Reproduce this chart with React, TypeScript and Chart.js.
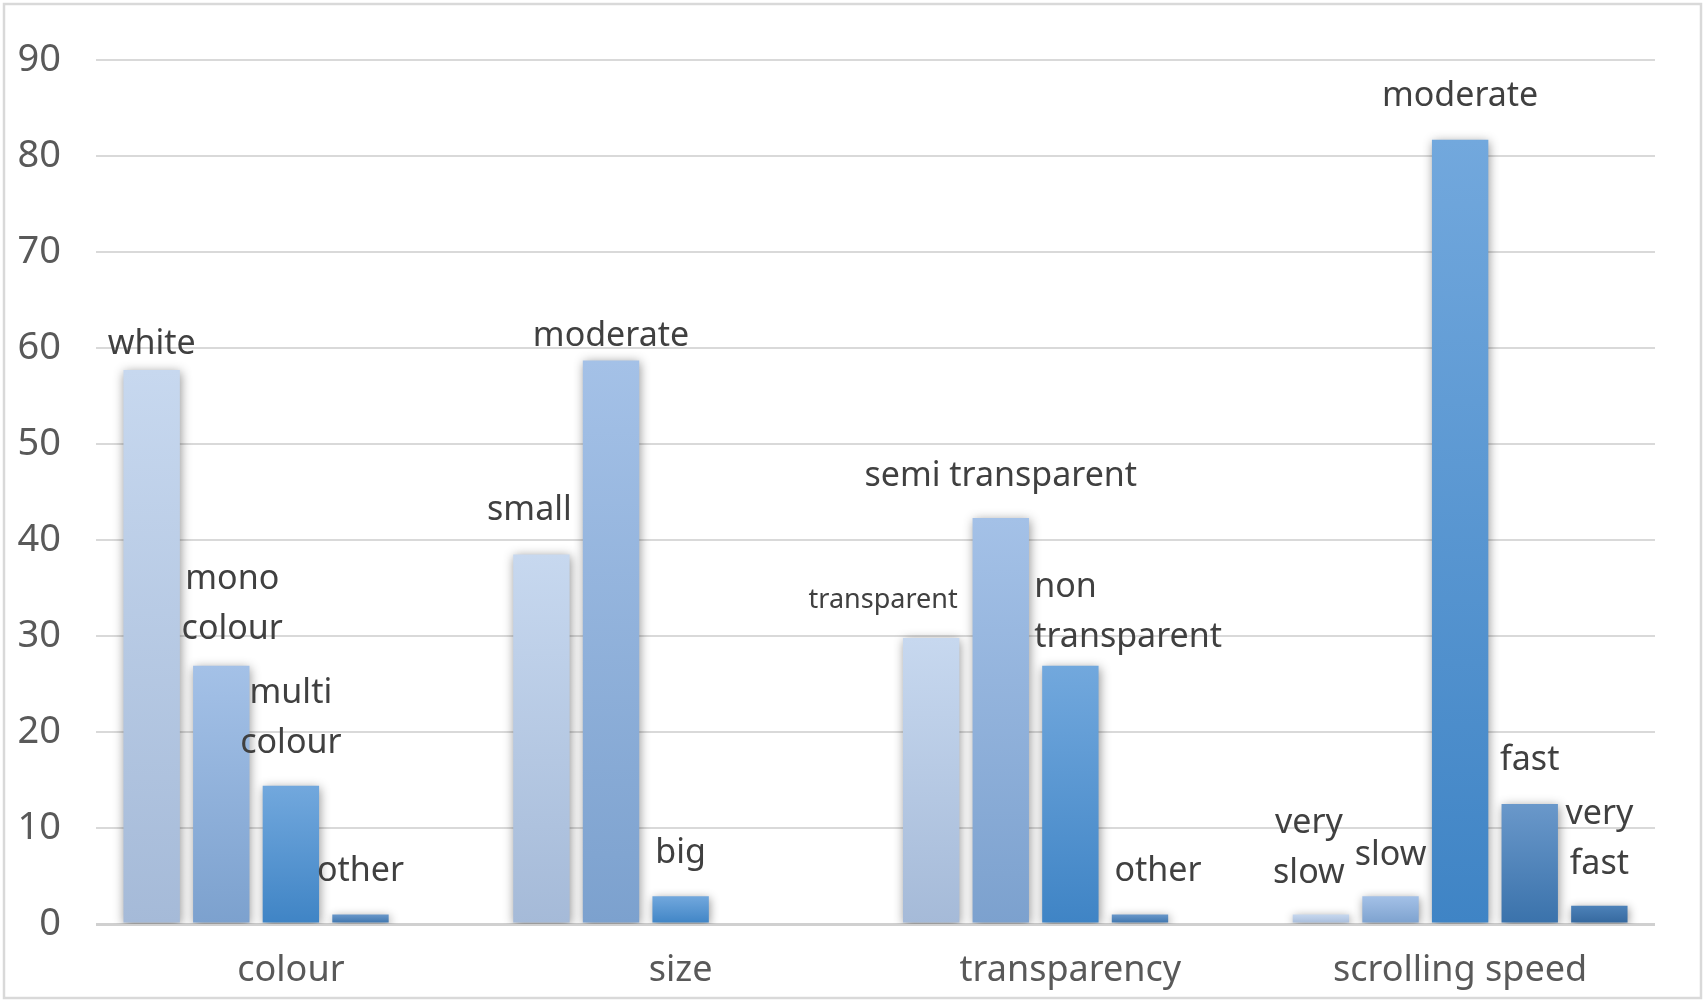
import React, { useEffect, useRef } from "react";
import { Chart, registerables } from "chart.js";

Chart.register(...registerables);

// ---- data ----
const categories = ["colour", "size", "transparency", "scrolling speed"];
const yTicks = [0, 10, 20, 30, 40, 50, 60, 70, 80, 90];

const slot1Values = [57.7, 38.5, 29.8, 1.0];
const slot2Values = [26.9, 58.7, 42.3, 2.9];
const slot3Values = [14.4, 2.9, 26.9, 81.7];
const slot4Values = [1.0, null, 1.0, 12.5];
const slot5Values = [null, null, null, 1.9];

const slot1Labels = ["white", "small", "transparent", "very\nslow"];
const slot2Labels = ["mono\ncolour", "moderate", "semi transparent", "slow"];
const slot3Labels = ["multi\ncolour", "big", "non\ntransparent", "moderate"];
const slot4Labels = ["other", "", "other", "fast"];
const slot5Labels = ["", "", "", "very\nfast"];

// ---- styles (not data) ----
const slotGradients = [
  ["#c7d8ef", "#a5bad8"],
  ["#a4c1e7", "#7ca1ce"],
  ["#72a8dd", "#3f84c5"],
  ["#6a98ca", "#3a72ab"],
  ["#4d82b9", "#34679d"],
];

type Place = { dx: number; gap: number; align?: "left" | "center"; size?: number };
const labelPlacement: Place[][] = [
  [{ dx: 0, gap: 26 }, { dx: -12, gap: 44 }, { dx: -48, gap: 38, size: 27 }, { dx: -12, gap: 41 }],
  [{ dx: 11, gap: 36 }, { dx: 0, gap: 24 }, { dx: 0, gap: 42 }, { dx: 0, gap: 41 }],
  [{ dx: 0, gap: 42 }, { dx: 0, gap: 43 }, { dx: -8, gap: 28, align: "left" }, { dx: 0, gap: 43 }],
  [{ dx: 0, gap: 43 }, { dx: 0, gap: 43 }, { dx: 18, gap: 43 }, { dx: 0, gap: 44 }],
  [{ dx: 0, gap: 41 }, { dx: 0, gap: 41 }, { dx: 0, gap: 41 }, { dx: 0, gap: 41 }],
];

const FONT = "'Noto Sans', 'DejaVu Sans', sans-serif";

export default function App() {
  const ref = useRef<HTMLCanvasElement | null>(null);

  useEffect(() => {
    document.body.style.margin = "0";
    const canvas = ref.current;
    if (!canvas) return;

    const seriesValues = [slot1Values, slot2Values, slot3Values, slot4Values, slot5Values];
    const seriesLabels = [slot1Labels, slot2Labels, slot3Labels, slot4Labels, slot5Labels];

    const gradientFill = (i: number) => (c: any) => {
      const [top, bottom] = slotGradients[i];
      const chart = c.chart;
      const ys = chart.scales && chart.scales.y;
      if (!ys || c.raw == null || c.type !== "data") return top;
      const y0 = ys.getPixelForValue(c.raw);
      const y1 = ys.getPixelForValue(0);
      if (!isFinite(y0) || !isFinite(y1) || y0 === y1) return top;
      const g = chart.ctx.createLinearGradient(0, y0, 0, y1);
      g.addColorStop(0, top);
      g.addColorStop(1, bottom);
      return g;
    };

    const shadowAndLabels = {
      id: "shadowAndLabels",
      beforeDraw(chart: any) {
        const ctx = chart.ctx;
        ctx.save();
        ctx.fillStyle = "#ffffff";
        ctx.fillRect(0, 0, chart.width, chart.height);
        ctx.strokeStyle = "#d9d9d9";
        ctx.lineWidth = 2.5;
        ctx.strokeRect(4, 4, chart.width - 8, chart.height - 9);
        ctx.restore();
      },
      beforeDatasetsDraw(chart: any) {
        const ctx = chart.ctx;
        ctx.save();
        ctx.shadowColor = "rgba(0,0,0,0.42)";
        ctx.shadowBlur = 10;
        ctx.shadowOffsetX = 1;
        ctx.shadowOffsetY = 2;
      },
      afterDatasetsDraw(chart: any) {
        const ctx = chart.ctx;
        ctx.restore();
        ctx.save();
        ctx.fillStyle = "#404040";
        ctx.textBaseline = "middle";
        seriesLabels.forEach((labels, si) => {
          const meta = chart.getDatasetMeta(si);
          labels.forEach((text, ci) => {
            if (!text) return;
            const el = meta.data[ci];
            if (!el || seriesValues[si][ci] == null) return;
            const p = labelPlacement[si][ci];
            const size = p.size || 34;
            ctx.font = `${size}px ${FONT}`;
            const lines = text.split("\n");
            const lh = 50;
            const lastY = el.y - p.gap;
            lines.forEach((ln, li) => {
              const y = lastY - (lines.length - 1 - li) * lh;
              if (p.align === "left") {
                ctx.textAlign = "left";
                ctx.fillText(ln, el.x - el.width / 2 + p.dx, y);
              } else {
                ctx.textAlign = "center";
                ctx.fillText(ln, el.x + p.dx, y);
              }
            });
          });
        });
        ctx.restore();
      },
    };

    const chart = new Chart(canvas, {
      type: "bar",
      data: {
        labels: categories,
        datasets: seriesValues.map((vals, i) => ({
          label: `slot ${i + 1}`,
          data: vals,
          backgroundColor: gradientFill(i),
          borderWidth: 0,
          categoryPercentage: 0.893,
          barPercentage: 0.81,
        })),
      },
      options: {
        responsive: false,
        animation: false,
        events: [],
        layout: { padding: { left: 0, right: 50, top: 60, bottom: 0 } },
        plugins: {
          legend: { display: false },
          tooltip: { enabled: false },
        },
        scales: {
          x: {
            grid: { display: false, drawTicks: false },
            border: { display: false },
            ticks: {
              color: "#595959",
              font: { family: FONT, size: 36 },
              padding: 25,
              maxRotation: 0,
              autoSkip: false,
            },
            afterFit: (s: any) => {
              s.height = 79;
            },
          },
          y: {
            min: 0,
            max: 90,
            afterBuildTicks: (s: any) => {
              s.ticks = yTicks.map((v) => ({ value: v }));
            },
            grid: {
              drawTicks: false,
              color: (c: any) => (c.tick && c.tick.value === 0 ? "#d0d0d0" : "#d9d9d9"),
              lineWidth: (c: any) => (c.tick && c.tick.value === 0 ? 3 : 2),
            },
            border: { display: false },
            ticks: {
              color: "#595959",
              font: { family: FONT, size: 38 },
              padding: 35,
            },
            afterFit: (s: any) => {
              s.width = 96;
            },
          },
        },
      },
      plugins: [shadowAndLabels],
    });

    return () => chart.destroy();
  }, []);

  return (
    <div style={{ width: 1705, height: 1003 }}>
      <canvas ref={ref} width={1705} height={1003} style={{ display: "block" }} />
    </div>
  );
}
